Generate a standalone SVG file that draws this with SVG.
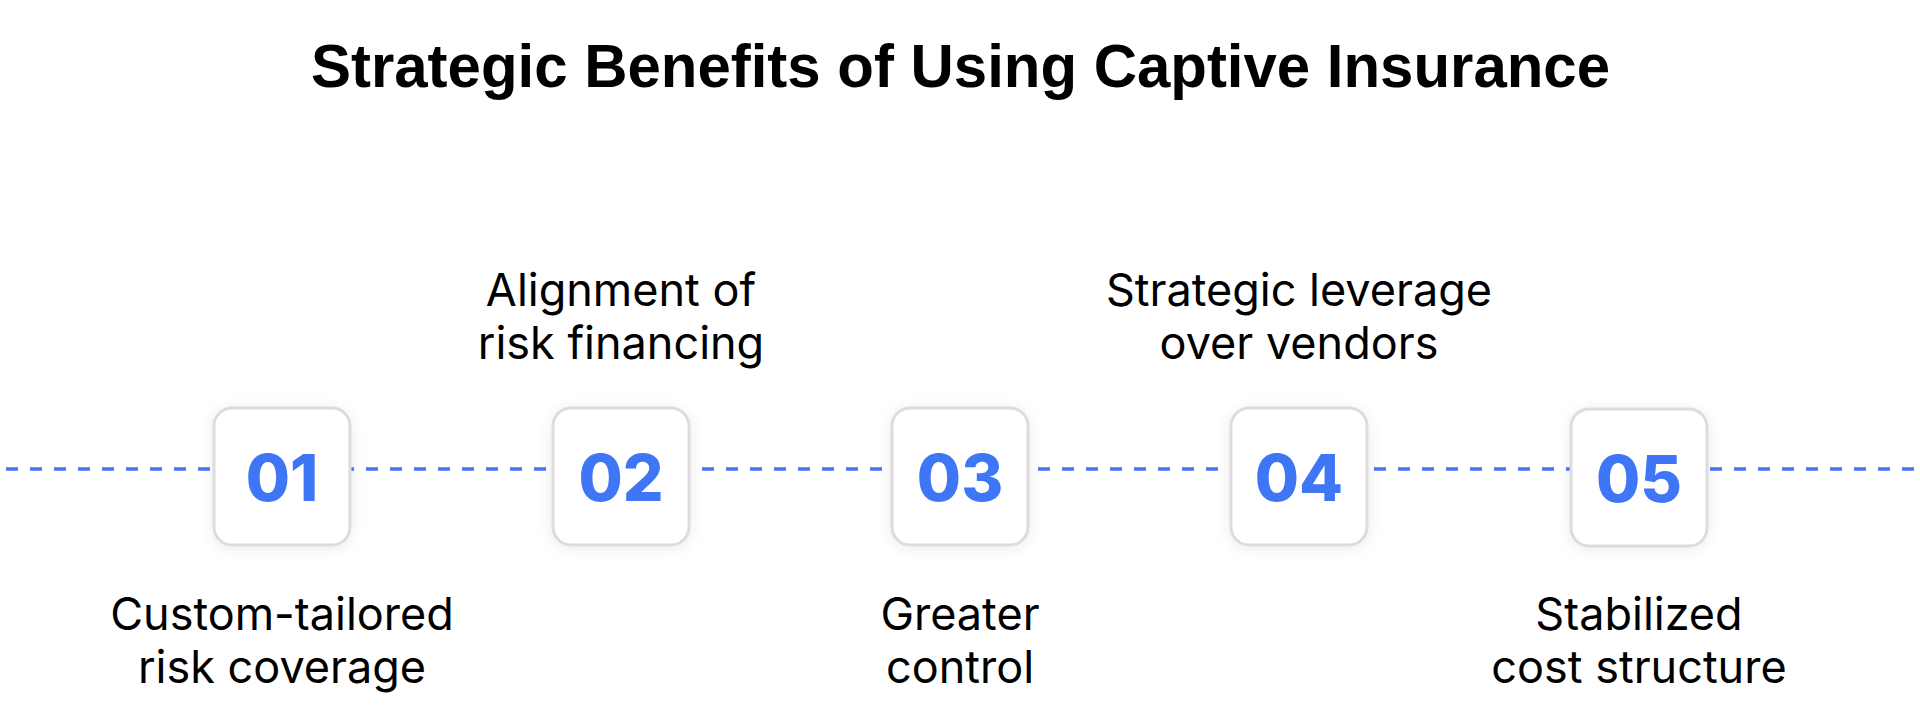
<svg xmlns="http://www.w3.org/2000/svg" width="1920" height="727" viewBox="0 0 1920 727">
  <style>
    .title { font-family: "Liberation Sans", Arial, sans-serif; font-weight: 700; font-size: 62px; fill: #000; }
    .label { font-family: Inter, "Noto Sans", sans-serif; font-weight: 400; font-size: 45px; fill: #000; text-anchor: middle; }
    .num { font-family: Inter, "Noto Sans", sans-serif; font-weight: 800; font-size: 64px; fill: #3F76F6; text-anchor: middle; }
    .box { fill: #FFFFFF; stroke: #DCDCDC; stroke-width: 3; }
    .dash { stroke: #3F76F6; stroke-width: 3.3; stroke-dasharray: 12 12; fill: none; }
  </style>
  <defs>
    <filter id="shadow" x="-30%" y="-30%" width="160%" height="160%">
      <feDropShadow dx="0" dy="2" stdDeviation="7" flood-color="#000" flood-opacity="0.08"/>
    </filter>
  </defs>
  <rect width="1920" height="727" fill="#FFFFFF"/>
  <text class="title" x="311" y="87" textLength="1299" lengthAdjust="spacingAndGlyphs">Strategic Benefits of Using Captive Insurance</text>

  <g id="connectors">
    <line class="dash" x1="6" y1="469" x2="1920" y2="469"/>
  </g>

  <g id="node-01">
    <rect class="box" x="214" y="408" width="136" height="137" rx="18" filter="url(#shadow)"/>
    <text class="num" x="282" y="501">01</text>
    <text class="label" x="282" y="630">Custom-tailored</text>
    <text class="label" x="282" y="683">risk coverage</text>
  </g>
  <g id="node-02">
    <rect class="box" x="553" y="408" width="136" height="137" rx="18" filter="url(#shadow)"/>
    <text class="num" x="621" y="501">02</text>
    <text class="label" x="621" y="306">Alignment of</text>
    <text class="label" x="621" y="359">risk financing</text>
  </g>
  <g id="node-03">
    <rect class="box" x="892" y="408" width="136" height="137" rx="18" filter="url(#shadow)"/>
    <text class="num" x="960" y="501">03</text>
    <text class="label" x="960" y="630">Greater</text>
    <text class="label" x="960" y="683">control</text>
  </g>
  <g id="node-04">
    <rect class="box" x="1231" y="408" width="136" height="137" rx="18" filter="url(#shadow)"/>
    <text class="num" x="1299" y="501">04</text>
    <text class="label" x="1299" y="306">Strategic leverage</text>
    <text class="label" x="1299" y="359">over vendors</text>
  </g>
  <g id="node-05">
    <rect class="box" x="1571" y="409" width="136" height="137" rx="18" filter="url(#shadow)"/>
    <text class="num" x="1639" y="502">05</text>
    <text class="label" x="1639" y="630">Stabilized</text>
    <text class="label" x="1639" y="683">cost structure</text>
  </g>
</svg>
